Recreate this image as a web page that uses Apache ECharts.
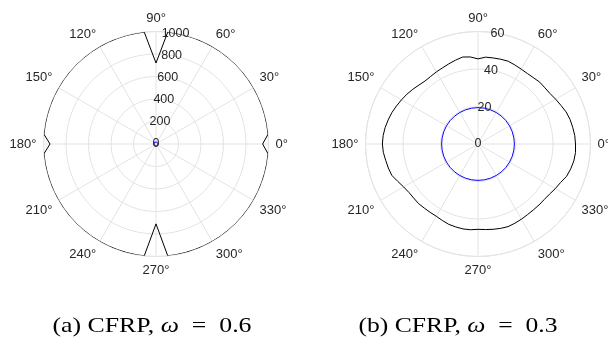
<!DOCTYPE html>
<html><head><meta charset="utf-8">
<script src="https://cdn.jsdelivr.net/npm/echarts@6/dist/echarts.min.js"></script>
<style>html,body{margin:0;padding:0;background:#fff}#c{width:608px;height:341px}</style>
</head><body><div id="c"></div>
<script>
// ---- data ----
const leftAngles = [0,5,10,15,20,25,30,35,40,45,50,55,60,65,70,75,80,84,90,96,100,105,110,115,120,125,130,135,140,145,150,155,160,165,170,175,180,185,190,195,200,205,210,215,220,225,230,235,240,245,250,255,260,264,270,276,280,285,290,295,300,305,310,315,320,325,330,335,340,345,350,355,360];
const leftBlack  = [948,1000,1000,1000,1000,1000,1000,1000,1000,1000,1000,1000,1000,1000,1000,1000,1000,1000,720,1000,1000,1000,1000,1000,1000,1000,1000,1000,1000,1000,1000,1000,1000,1000,1000,1000,942,1000,1000,1000,1000,1000,1000,1000,1000,1000,1000,1000,1000,1000,1000,1000,1000,1000,710,1000,1000,1000,1000,1000,1000,1000,1000,1000,1000,1000,1000,1000,1000,1000,1000,1000,948];
const circleAngles = [0,10,20,30,40,50,60,70,80,90,100,110,120,130,140,150,160,170,180,190,200,210,220,230,240,250,260,270,280,290,300,310,320,330,340,350,360];
const leftBlue   = [19.5,19.5,19.5,19.5,19.5,19.5,19.5,19.5,19.5,19.5,19.5,19.5,19.5,19.5,19.5,19.5,19.5,19.5,19.5,19.5,19.5,19.5,19.5,19.5,19.5,19.5,19.5,19.5,19.5,19.5,19.5,19.5,19.5,19.5,19.5,19.5,19.5];
const rightAngles = [0,5,10,15,20,25,30,35,40,45,50,55,60,65,70,75,80,85,90,95,100,105,110,115,120,125,130,135,140,145,150,155,160,165,170,175,180,185,190,195,200,205,210,215,220,225,230,235,240,245,250,255,260,265,270,275,280,285,290,295,300,305,310,315,320,325,330,335,340,345,350,355,360];
const rightBlack = [52.0,51.8,51.3,50.8,50.0,48.8,47.8,46.9,46.6,46.6,46.1,45.9,46.1,46.5,47.0,46.8,46.6,46.5,45.4,46.6,47.1,46.3,45.5,44.8,44.4,44.0,43.9,44.5,45.4,46.3,47.1,48.0,48.9,49.6,50.3,50.8,51.0,50.7,50.0,49.5,48.9,47.2,45.8,45.0,44.8,44.9,44.6,44.5,44.5,45.0,45.6,45.8,46.0,45.9,45.5,45.8,46.2,46.6,46.9,46.6,46.3,46.0,45.9,46.0,46.1,46.6,47.6,48.6,50.3,51.2,51.9,52.2,52.0];
const rightBlue  = [19.4,19.4,19.4,19.4,19.4,19.4,19.4,19.4,19.4,19.4,19.4,19.4,19.4,19.4,19.4,19.4,19.4,19.4,19.4,19.4,19.4,19.4,19.4,19.4,19.4,19.4,19.4,19.4,19.4,19.4,19.4,19.4,19.4,19.4,19.4,19.4,19.4];
const leftRMax = 1000, leftRStep = 200;
const rightRMax = 60, rightRStep = 20;
const captionPrefix = ['(a) CFRP, ', '(b) CFRP, '];
const omegaValues = ['0.6', '0.3'];

// ---- build ----
const FONT = 'Liberation Sans';
const TXT = '#262626';
const GRID = '#e3e3e3';
function pairs(r, a){ return r.map((v,i)=>[v, a[i]]); }

const centers = [[156,144],[478,144]];
const R = 112.5;
const polar = [], angleAxis = [], radiusAxis = [];
[[leftRMax,leftRStep],[rightRMax,rightRStep]].forEach(([mx,st],k)=>{
  polar.push({center: centers[k], radius: R});
  angleAxis.push({polarIndex:k, type:'value', min:0, max:360, interval:30, startAngle:0, clockwise:false,
    axisLine:{show:true, lineStyle:{color:GRID, width:1}}, axisTick:{show:false},
    axisLabel:{show:true, margin:7, color:TXT, fontFamily:FONT, fontSize:13,
      formatter:v=> v>=360 ? '' : v+'°'},
    splitLine:{show:true, lineStyle:{color:GRID, width:1}}});
  radiusAxis.push({polarIndex:k, type:'value', min:0, max:mx, interval:st,
    axisLine:{show:false}, axisTick:{show:false}, axisLabel:{show:false},
    splitLine:{show:true, lineStyle:{color:GRID, width:1}}});
});
// label-only polars with radial axis at 80 degrees
[[leftRMax,leftRStep],[rightRMax,rightRStep]].forEach(([mx,st],k)=>{
  polar.push({center: centers[k], radius: R});
  angleAxis.push({polarIndex:k+2, type:'value', min:0, max:360, startAngle:80, show:false});
  radiusAxis.push({polarIndex:k+2, type:'value', min:0, max:mx, interval:st, z:5,
    axisLine:{show:false}, axisTick:{show:false}, splitLine:{show:false},
    axisLabel:{show:true, margin:0, align:'center', verticalAlign:'middle', color:TXT, fontFamily:FONT, fontSize:12.5,
      formatter:v=>String(v)}});
});

const lineBase = {type:'line', coordinateSystem:'polar', showSymbol:false, symbol:'none', animation:false, smooth:false};
const series = [
  Object.assign({}, lineBase, {polarIndex:0, data:pairs(leftBlack,leftAngles), lineStyle:{color:'#000', width:1}, z:3}),
  Object.assign({}, lineBase, {polarIndex:0, data:pairs(leftBlue,circleAngles), lineStyle:{color:'#0000ff', width:1}, z:3}),
  Object.assign({}, lineBase, {polarIndex:1, data:pairs(rightBlack,rightAngles), lineStyle:{color:'#000', width:1}, z:3}),
  Object.assign({}, lineBase, {polarIndex:1, data:pairs(rightBlue,circleAngles), lineStyle:{color:'#0000ff', width:1}, z:3}),
];

// captions (centered, stretched to reference width)
const CAP_SIZE = 22, CAP_W = 199;
const capCenterX = [152, 458], capCenterY = 326;
const mctx = document.createElement('canvas').getContext('2d');
function tw(t, italic){ mctx.font = (italic?'italic ':'') + CAP_SIZE + 'px "Liberation Serif"'; return mctx.measureText(t).width; }
const graphic = captionPrefix.map((c,k)=>{
  const rest = '  =  ' + omegaValues[k];
  const w = tw(c) + tw('ω', true) + tw(rest);
  const sx = CAP_W / w;
  return {
    type:'text', x: capCenterX[k] - CAP_W/2, y: capCenterY, scaleX: sx,
    style:{ text: c + '{w|ω}' + rest, fill:'#000', fontFamily:'Liberation Serif', fontSize:CAP_SIZE,
      verticalAlign:'middle', align:'left',
      rich:{ w:{ fontStyle:'italic', fontFamily:'Liberation Serif', fontSize:CAP_SIZE } } }
  };
});

const chart = echarts.init(document.getElementById('c'), null, {renderer:'canvas'});
chart.setOption({animation:false, polar, angleAxis, radiusAxis, series, graphic});
</script></body></html>
